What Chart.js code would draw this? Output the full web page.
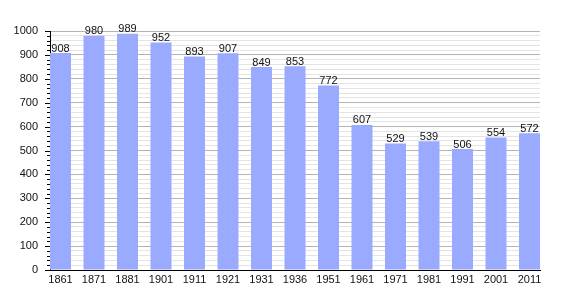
<!DOCTYPE html>
<html>
<head>
<meta charset="utf-8">
<script src="https://cdn.jsdelivr.net/npm/chart.js@4/dist/chart.umd.min.js"></script>
<style>
  html, body { margin: 0; padding: 0; background: #fff; }
  #wrap { width: 570px; height: 300px; }
</style>
</head>
<body>
<div id="wrap"><canvas id="popChart"></canvas></div>
<script>
// Population per census year
const years = ["1861", "1871", "1881", "1901", "1911", "1921", "1931", "1936",
  "1951", "1961", "1971", "1981", "1991", "2001", "2011"];
const population = [908, 980, 989, 952, 893, 907, 849, 853, 772, 607, 529, 539, 506, 554, 572];
const yMax = 1000;
const yMajorStep = 100;
const yMinorStep = 20;

const barColor = "rgb(153,170,255)";
const font = { family: "'Liberation Sans', Arial, sans-serif", size: 11 };

// value labels above each bar
const valueLabels = {
  id: "valueLabels",
  afterDatasetsDraw(chart) {
    const ctx = chart.ctx;
    const meta = chart.getDatasetMeta(0);
    ctx.save();
    ctx.font = font.size + "px " + font.family;
    ctx.fillStyle = "#111";
    ctx.textAlign = "center";
    ctx.textBaseline = "bottom";
    meta.data.forEach((bar, i) => {
      ctx.fillText(String(population[i]), bar.x, bar.y + 1);
    });
    ctx.restore();
  },
};

// tick marks on the y axis: long for majors, short for minors
const yTickMarks = {
  id: "yTickMarks",
  afterDraw(chart) {
    const ctx = chart.ctx;
    const scale = chart.scales.y;
    const left = chart.chartArea.left;
    ctx.save();
    ctx.strokeStyle = "#000";
    ctx.lineWidth = 1;
    scale.ticks.forEach((t) => {
      const y = Math.round(scale.getPixelForValue(t.value)) + 0.5;
      const len = t.value % yMajorStep === 0 ? 5 : 3;
      ctx.beginPath();
      ctx.moveTo(left - len, y);
      ctx.lineTo(left, y);
      ctx.stroke();
    });
    ctx.restore();
  },
};

new Chart(document.getElementById("popChart"), {
  type: "bar",
  data: {
    datasets: [
      {
        data: population.map((v, i) => ({ x: i, y: v })),
        backgroundColor: barColor,
        borderWidth: 0,
        barPercentage: 1,
        categoryPercentage: 0.627,
      },
    ],
  },
  options: {
    responsive: true,
    maintainAspectRatio: false,
    animation: false,
    layout: { padding: { top: 31, right: 30, bottom: 0, left: 0 } },
    plugins: {
      legend: { display: false },
      tooltip: { enabled: false },
    },
    scales: {
      x: {
        type: "linear",
        offset: false,
        min: -0.3134,
        max: years.length - 1 + 0.3134,
        afterBuildTicks(axis) {
          axis.ticks = years.map((_, i) => ({ value: i }));
        },
        afterFit(axis) {
          axis.height = 30;
        },
        grid: { display: false, drawTicks: false, offset: false },
        border: { display: true, color: "#000", width: 1 },
        ticks: {
          autoSkip: false,
          maxRotation: 0,
          padding: 3,
          color: "#111",
          font: font,
          callback: (v) => years[v] || "",
        },
      },
      y: {
        min: 0,
        max: yMax,
        afterFit(axis) {
          axis.width = 50;
        },
        grid: {
          drawTicks: false,
          color: (c) => (c.tick.value % yMajorStep === 0 ? "#b4b4b4" : "#e4e4e4"),
        },
        border: { display: true, color: "#000", width: 1 },
        ticks: {
          stepSize: yMinorStep,
          autoSkip: false,
          padding: 12,
          color: "#111",
          font: font,
          callback: (v) => (v % yMajorStep === 0 ? v : ""),
        },
      },
    },
  },
  plugins: [valueLabels, yTickMarks],
});
</script>
</body>
</html>
